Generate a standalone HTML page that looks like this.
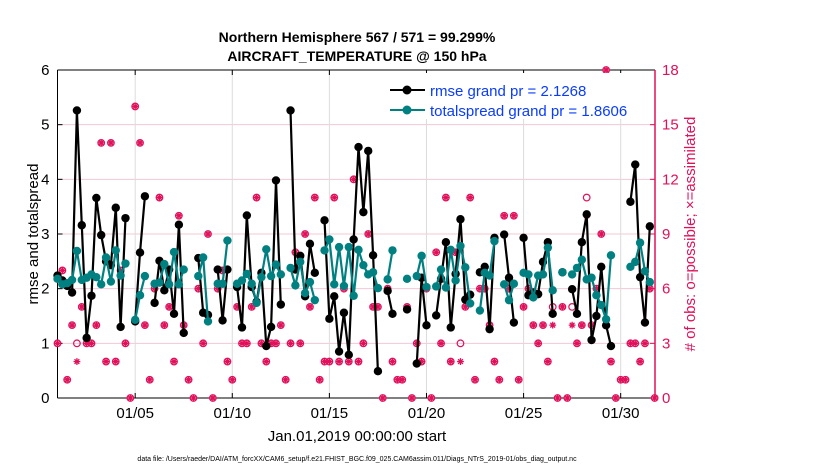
<!DOCTYPE html>
<html><head><meta charset="utf-8"><style>
body{margin:0;background:#fff;width:830px;height:470px;overflow:hidden}
svg text{font-family:"Liberation Sans",Arial,sans-serif}
</style></head><body>
<svg id="chart" width="830" height="470" viewBox="0 0 830 470" xmlns="http://www.w3.org/2000/svg">
<text x="357" y="42" text-anchor="middle" font-size="14" font-weight="bold">Northern Hemisphere 567 / 571 = 99.299%</text>
<text x="357" y="61" text-anchor="middle" font-size="14" font-weight="bold">AIRCRAFT_TEMPERATURE @ 150 hPa</text>
<g id="grid"></g>
<g id="axes"></g>
<g id="marks"></g>
<text transform="translate(38,234) rotate(-90)" text-anchor="middle" font-size="15">rmse and totalspread</text>
<text transform="translate(695,234) rotate(-90)" text-anchor="middle" font-size="15" fill="#e0105a"># of obs: o=possible; ×=assimilated</text>
<text x="357" y="441" text-anchor="middle" font-size="15">Jan.01,2019 00:00:00 start</text>
<text x="357" y="461" text-anchor="middle" font-size="7">data file: /Users/raeder/DAI/ATM_forcXX/CAM6_setup/f.e21.FHIST_BGC.f09_025.CAM6assim.011/Diags_NTrS_2019-01/obs_diag_output.nc</text>
<g>
<rect x="388" y="73" width="264" height="46" fill="#fff"/>
<g>
<line x1="390" y1="90" x2="425" y2="90" stroke="#000" stroke-width="2"/><circle cx="407" cy="90" r="4.5" fill="#000"/>
<text x="430" y="96" font-size="15" fill="#0a3cff">rmse grand pr = 2.1268</text></g>
<g>
<line x1="390" y1="110" x2="425" y2="110" stroke="#008080" stroke-width="2"/><circle cx="407" cy="110" r="4.5" fill="#008080"/>
<text x="430" y="116" font-size="15" fill="#0a3cff">totalspread grand pr = 1.8606</text></g>
</g>
</svg>
<script>
const rmse=[2.24,2.15,2.05,1.93,5.26,3.16,1.10,1.87,3.66,2.98,2.5,2.43,3.48,1.3,3.29,null,1.40,2.66,3.69,null,1.74,2.51,1.97,2.35,1.54,3.17,1.19,null,null,2.56,1.56,1.52,null,2.35,1.42,2.35,null,2.03,1.29,3.34,2.03,1.76,2.29,0.95,1.30,3.98,1.71,null,5.26,2.35,2.6,1.86,2.82,2.29,null,3.25,1.45,1.86,0.85,1.56,0.79,2.9,4.59,3.4,4.52,2.61,0.49,null,1.96,1.54,null,null,1.62,null,0.63,2.2,1.33,null,1.51,2.18,2.85,1.29,2.27,3.27,1.8,1.89,null,2.3,2.4,1.26,2.93,null,2.99,2.2,1.38,null,2.93,1.88,1.93,1.9,2.49,2.85,1.54,null,2.3,null,1.99,1.54,2.85,3.36,1.06,1.5,2.4,1.33,0.95,null,null,null,3.59,4.27,2.21,1.38,3.14];
const spread=[2.18,2.08,2.1,2.16,2.69,2.16,2.2,2.26,2.21,2.08,2.57,2.13,2.7,2.24,2.46,null,1.43,1.88,2.23,null,2.09,2.11,2.45,2.08,2.67,2.08,2.35,null,null,2.23,2.57,1.40,null,2.09,2.09,2.88,null,2.09,2.15,2.27,2.09,1.74,2.21,2.72,2.23,2.44,2.26,null,2.38,2.06,2.49,1.92,2.12,1.79,null,2.70,2.9,2.08,2.76,2.05,2.76,1.87,2.71,2.43,2.26,2.3,2.01,null,2.17,2.70,null,null,2.18,null,2.23,2.6,2.03,null,2.04,2.35,2.02,2.71,2.15,2.78,2.39,1.73,null,1.60,2.29,2.24,2.87,null,2.08,1.79,2.09,null,2.29,2.26,1.84,2.24,2.26,2.75,1.97,null,2.3,null,2.26,2.38,2.53,2.17,2.2,1.88,1.70,1.44,2.61,null,null,null,2.4,2.49,2.84,2.32,2.12];
const obsPossible=[3,7,1,4,3,5,3,3,4,14,2,14,2,7,3,0,16,14,4,1,6,11,4,5,2,10,4,1,0,6,3,9,0,6,7,2,1,5,3,3,5,11,3,2,3,3,4,1,3,8,3,9,5,11,1,2,2,11,2,6,2,12,2,3,9,5,5,0,6,2,1,1,5,0,3,2,6,0,8,3,11,2,8,3,5,11,1,6,6,4,2,1,10,6,10,1,5,6,4,3,4,2,5,0,5,0,5,3,4,11,4,6,9,18,2,0,1,1,3,3,2,3,6,0];
const obsAssim=[3,7,1,4,2,5,3,3,4,14,2,14,2,7,3,0,16,14,4,1,6,11,4,5,2,10,4,1,0,6,3,9,0,6,7,2,1,5,3,3,5,11,3,2,3,3,4,1,3,8,3,9,5,11,1,2,2,11,2,6,2,12,2,3,9,5,5,0,6,2,1,1,5,0,3,2,6,0,8,3,11,2,8,2,5,11,1,6,6,4,2,1,10,6,10,1,5,6,4,3,4,2,4,0,5,0,4,3,4,10,4,6,9,18,2,0,1,1,3,3,2,3,6,0];
const leftTicks=[0,1,2,3,4,5,6];
const rightTicks=[0,3,6,9,12,15,18];
const dateTicks=[5,10,15,20,25,30];
const dateLabels=["01/05","01/10","01/15","01/20","01/25","01/30"];

const NS="http://www.w3.org/2000/svg";
const L=57.5,R=655,T=70,B=398;
const xDay=d=>L+(d-1)*19.42;
const xIdx=i=>xDay(1+i/4);
const yL=v=>B-(v/6)*(B-T);
const yR=v=>B-(v/18)*(B-T);
function mk(tag,attrs,parent){const e=document.createElementNS(NS,tag);for(const k in attrs)e.setAttribute(k,attrs[k]);parent.appendChild(e);return e;}
const grid=document.getElementById('grid'),axes=document.getElementById('axes'),marks=document.getElementById('marks');

leftTicks.forEach(v=>{
  if(v>0&&v<6){const g=mk('line',{x1:L,x2:R,y1:yL(v),y2:yL(v),stroke:'#f3c8d6','stroke-width':1},grid);
  
  }
  mk('line',{x1:L,x2:L+5,y1:yL(v),y2:yL(v),stroke:'#000'},axes);
  const t=mk('text',{x:L-8,y:yL(v)+5,'text-anchor':'end','font-size':15},axes);t.textContent=v;
  
  
});
rightTicks.forEach(v=>{
  mk('line',{x1:R-5,x2:R,y1:yR(v),y2:yR(v),stroke:'#e0105a'},axes);
  const t=mk('text',{x:R+7,y:yR(v)+5,'font-size':15,fill:'#e0105a'},axes);t.textContent=v;
  
  
});
dateTicks.forEach((d,k)=>{
  const g=mk('line',{x1:xDay(d),x2:xDay(d),y1:T,y2:B,stroke:'#dcdcdc'},grid);
  
  
  mk('line',{x1:xDay(d),x2:xDay(d),y1:B,y2:B-5,stroke:'#000'},axes);
  mk('line',{x1:xDay(d),x2:xDay(d),y1:T,y2:T+5,stroke:'#000'},axes);
  const t=mk('text',{x:xDay(d),y:B+20,'text-anchor':'middle','font-size':15},axes);t.textContent=dateLabels[k];
  
  
});
mk('line',{x1:L,x2:R,y1:T,y2:T,stroke:'#000'},axes);
mk('line',{x1:L,x2:R,y1:B,y2:B,stroke:'#000'},axes);
mk('line',{x1:L,x2:L,y1:T,y2:B,stroke:'#000'},axes);
mk('line',{x1:R,x2:R,y1:T,y2:B,stroke:'#e0105a','stroke-width':1.5},axes);

// obs markers
obsPossible.forEach((v,i)=>{
  if(v===null)return;
  const c=mk('circle',{cx:xIdx(i),cy:yR(v),r:3.3,fill:'none',stroke:'#e0105a','stroke-width':1.2},marks);
  
  
});
obsAssim.forEach((v,i)=>{
  if(v===null)return;
  const x=xIdx(i),y=yR(v),s=3.4;
  const p=mk('path',{d:`M${x-s} ${y}H${x+s}M${x} ${y-s}V${y+s}M${x-s*0.7} ${y-s*0.7}L${x+s*0.7} ${y+s*0.7}M${x-s*0.7} ${y+s*0.7}L${x+s*0.7} ${y-s*0.7}`,stroke:'#e0105a','stroke-width':1.3},marks);
  
  
});

function series(vals,color,name){
  let d='',pen=false;
  vals.forEach((v,i)=>{ if(v===null){pen=false;return;} d+=(pen?'L':'M')+xIdx(i).toFixed(1)+' '+yL(v).toFixed(1); pen=true;});
  const p=mk('path',{d:d,fill:'none',stroke:color,'stroke-width':2.2,'stroke-linejoin':'round'},marks);
  
  
  vals.forEach((v,i)=>{ if(v===null)return;
    const c=mk('circle',{cx:xIdx(i),cy:yL(v),r:4.2,fill:color},marks);
    
    
  });
}
series(rmse,'#000','rmse');
series(spread,'#008080','totalspread');
</script>
</body></html>
